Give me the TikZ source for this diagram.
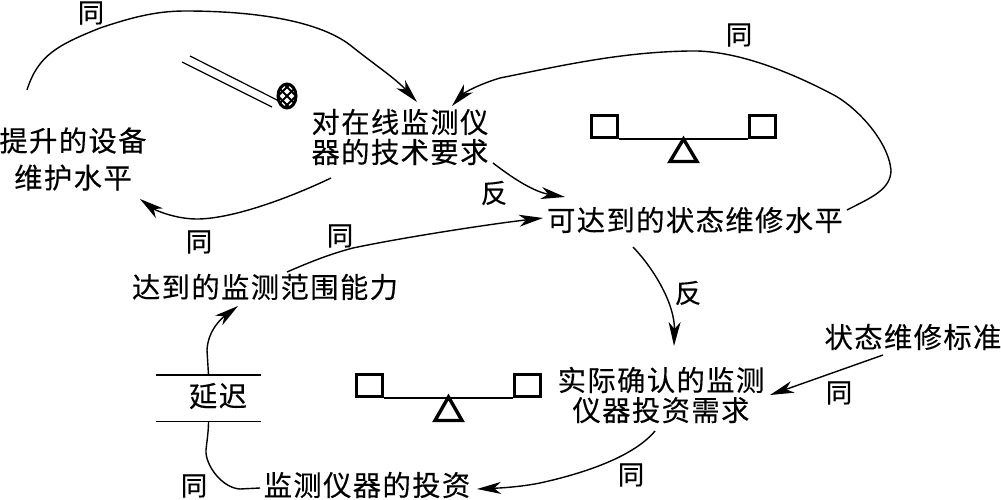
\documentclass[tikz,border=0pt]{standalone}
\usepackage{fontspec}
\setmainfont[LetterSpace=5,FakeBold=0.25]{Noto Sans CJK SC}
\usetikzlibrary{arrows.meta}
\tikzset{
  lab/.style={inner sep=0pt,align=center,font=\fontsize{28.3}{30}\selectfont},
  lab2/.style={inner sep=0pt,align=center,font=\fontsize{28.3}{37}\selectfont},
  pol/.style={inner sep=0pt,font=\fontsize{26.5}{30}\selectfont},
  conn/.style={line width=1.4pt,-{Stealth[length=24pt,width=12pt,inset=7pt]}},
  plain/.style={line width=1.4pt},
  sq/.style={draw,line width=3pt,minimum width=26pt,minimum height=22pt,inner sep=0pt},
  tri/.style={line width=3.4pt,miter limit=10},
  gap/.style={minimum width=105pt,minimum height=46pt,inner sep=0pt},
}
\begin{document}
\begin{tikzpicture}[x=1pt,y=-1pt]
\useasboundingbox (0,0) rectangle (1001,500);
% nodes
\node[lab2] (A) at (73,159) {提升的设备\\维护水平};
\node[lab] (B) at (400,137) {对在线监测仪\\器的技术要求};
\node[lab] (C) at (695,220) {可达到的状态维修水平};
\node[lab] (D) at (265,287) {达到的监测范围能力};
\node[lab] (E) at (661,395) {实际确认的监测\\仪器投资需求};
\node[lab] (F) at (913,337) {状态维修标准};
\node[lab] (G) at (367,485) {监测仪器的投资};
\node[gap] (dly) at (208.5,398) {};
\node[lab] (dlytxt) at (218,396) {延迟};
% polarity labels
\node[pol] (p1) at (91,13) {同};
\node[pol] (p2) at (739,35) {同};
\node[pol] (p3) at (199,242) {同};
\node[pol] (p4) at (340,236) {同};
\node[pol] (p5) at (494,193) {反};
\node[pol] (p6) at (688,293) {反};
\node[pol] (p7) at (839,393) {同};
\node[pol] (p8) at (631,475) {同};
\node[pol] (p9) at (194,486) {同};
% delay bars
\draw[plain] (dly.north west) -- (dly.north east);
\draw[plain] (dly.south west) -- (dly.south east);
% connectors
\draw[conn] ([shift={(-46,-69)}]A.center) .. controls (38,55) and (58,45) .. (100,28)
  .. controls (130,18) and (155,11) .. (185,11)
  .. controls (260,11) and (320,22) .. (350,45)
  .. controls (375,65) and (395,78) .. ([shift={(17,-35)}]B.center);
\draw[conn] ([shift={(152,-10)}]C.center) .. controls (870,198) and (891,190) .. (891,170)
  .. controls (888,140) and (855,105) .. (830,93)
  .. controls (780,67) and (730,50) .. (690,51)
  .. controls (620,52) and (560,66) .. (500,78)
  .. controls (480,84) and (465,92) .. ([shift={(52,-31)}]B.center);
\draw[conn] ([shift={(-69,41)}]B.center) .. controls (285,200) and (230,219) .. (197,219)
  .. controls (175,219) and (155,210) .. ([shift={(67,40)}]A.center);
\draw[conn] ([shift={(93,26)}]B.center) .. controls (515,180) and (535,192) .. ([shift={(-130,-23)}]C.center);
\draw[conn] ([shift={(22,-15)}]D.center) .. controls (310,262) and (330,254) .. (353,248)
  .. controls (400,238) and (490,224) .. ([shift={(-152,-2)}]C.center);
\draw[conn] ([shift={(-62,27)}]C.center) .. controls (655,270) and (675,305) .. ([shift={(13,-49)}]E.center);
\draw[conn] ([shift={(-30,18)}]F.center) -- ([shift={(109,0)}]E.center);
\draw[conn] ([shift={(-6,36)}]E.center) .. controls (635,455) and (590,472) .. (540,483)
  .. controls (520,487) and (500,488) .. ([shift={(110,4)}]G.center);
\draw[plain] ([shift={(-107,3)}]G.center) -- (240,489) .. controls (222,488) and (205,465) .. (206,450)
  .. controls (207,440) and (208.5,432) .. (dly.south);
\draw[conn] (dly.north) -- (207,350) .. controls (208,330) and (222,318) .. ([shift={(-27,19)}]D.center);
% balance 1
\node[sq] (s1) at (604.5,126.5) {};
\node[sq] (s2) at (762,126.5) {};
\draw[plain] (s1.south east) -- (s2.south west);
\draw[tri] (683.5,139) -- (697,161.5) -- (670,161.5) -- cycle;
% balance 2
\node[sq] (s3) at (369.5,385.5) {};
\node[sq] (s4) at (527.5,385.5) {};
\draw[plain] (s3.south east) -- (s4.south west);
\draw[tri] (448.5,397) -- (462,420.5) -- (435,420.5) -- cycle;
% pipe and valve
\draw[line width=1.2pt] (190,56) -- (277,100);
\draw[line width=1.2pt] (182,62) -- (272,107);
\begin{scope}
\clip (287,96) ellipse [x radius=10,y radius=13];
\foreach \d in {-27,-18,...,27}{
  \draw[line width=1.9pt] (287+\d-20,96-20) -- (287+\d+20,96+20);
  \draw[line width=1.9pt] (287+\d+20,96-20) -- (287+\d-20,96+20);
}
\end{scope}
\draw[line width=3pt] (287,96) ellipse [x radius=9,y radius=12];
\end{tikzpicture}
\end{document}
